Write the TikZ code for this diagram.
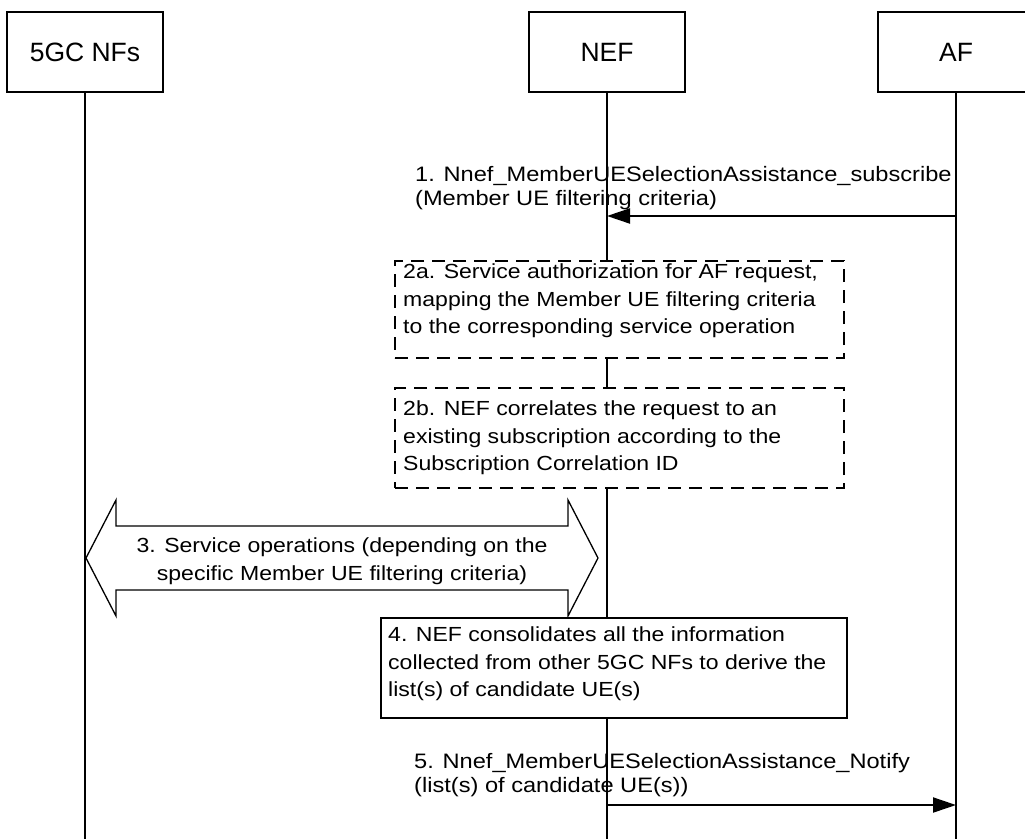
\documentclass[tikz,border=0pt]{standalone}
\usepackage{fontspec}
\setmainfont{Liberation Sans}
\newfontfamily\stretchfont[FakeStretch=1.13]{Liberation Sans}
\usetikzlibrary{arrows.meta}
\tikzset{
  hdr/.style={draw, line width=2pt, fill=white, minimum width=156pt, minimum height=80pt, inner sep=0pt, font=\fontsize{26.5}{30}\selectfont},
  life/.style={line width=1.8pt},
  msg/.style={line width=2pt, -{Triangle[length=23pt,width=15pt]}},
  dbox/.style={draw, line width=2pt, dash pattern=on 13pt off 8pt, fill=white, inner sep=0pt, anchor=north west},
  sbox/.style={draw, line width=2pt, fill=white, inner sep=0pt, anchor=north west},
  txt/.style={inner sep=0pt, anchor=north west, align=left, font=\stretchfont\fontsize{20.4}{27.5}\selectfont},
  lbl/.style={inner sep=0pt, anchor=north west, align=left, font=\stretchfont\fontsize{20.9}{24}\selectfont},
  dbl/.style={draw, line width=1.3pt, fill=white},
}
\begin{document}
\begin{tikzpicture}[x=1pt,y=-1pt]
\useasboundingbox (0,0) rectangle (1025,839);
\clip (0,0) rectangle (1025,839);
% lifelines
\coordinate (nfEnd) at (85,839);
\coordinate (nefEnd) at (607,839);
\coordinate (afEnd) at (956,839);
\node[hdr] (nf) at (85,52) {5GC NFs};
\node[hdr] (nef) at (607,52) {NEF};
\node[hdr] (af) at (956,52) {AF};
\draw[life] (nf.south) -- (nfEnd);
\draw[life] (nef.south) -- (nefEnd);
\draw[life] (af.south) -- (afEnd);
% step 1
\coordinate (m1a) at (956,216);
\coordinate (m1b) at (607,216);
\draw[msg] (m1a) -- (m1b);
\node[lbl] (l1) at (415,166) {1. Nnef\_MemberUESelectionAssistance\_subscribe\\(Member UE filtering criteria)};
% step 2a
\node[dbox, minimum width=449pt, minimum height=97pt] (b2a) at (394,260) {};
\node[txt] (t2a) at (403,264) {2a. Service authorization for AF request,\\mapping the Member UE filtering criteria\\to the corresponding service operation};
% step 2b
\node[dbox, minimum width=449pt, minimum height=100pt] (b2b) at (394,387) {};
\node[txt] (t2b) at (403,401) {2b. NEF correlates the request to an\\existing subscription according to the\\Subscription Correlation ID};
% step 3
\draw[dbl] (86,558) -- (116,500) -- (116,526) -- (568,526) -- (568,500) -- (598,558)
  -- (568,616) -- (568,590) -- (116,590) -- (116,616) -- cycle;
\node[inner sep=0pt, align=center, font=\stretchfont\fontsize{20.4}{28}\selectfont] (l3) at (342,561)
  {3. Service operations (depending on the\\specific Member UE filtering criteria)};
% step 4
\node[sbox, minimum width=466pt, minimum height=100pt] (b4) at (380,617) {};
\node[txt] (t4) at (388,627) {4. NEF consolidates all the information\\collected from other 5GC NFs to derive the\\list(s) of candidate UE(s)};
% step 5
\coordinate (m5a) at (607,805);
\coordinate (m5b) at (956,805);
\draw[msg] (m5a) -- (m5b);
\node[lbl] (l5) at (414,753) {5. Nnef\_MemberUESelectionAssistance\_Notify\\(list(s) of candidate UE(s))};
\end{tikzpicture}
\end{document}
